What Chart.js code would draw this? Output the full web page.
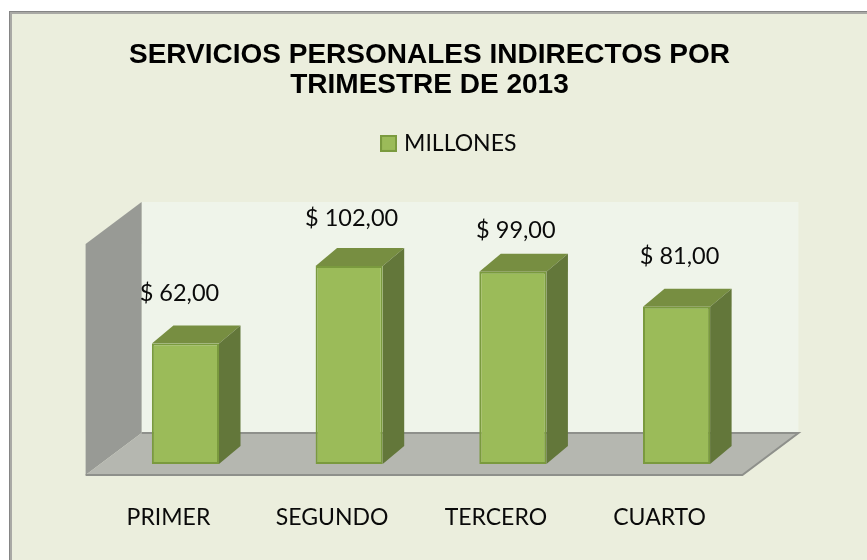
<!DOCTYPE html>
<html>
<head>
<meta charset="utf-8">
<title>Servicios personales indirectos</title>
<script src="https://cdn.jsdelivr.net/npm/chart.js@4"></script>
<style>
  html, body { margin: 0; padding: 0; background: #fff; }
  #box { position: relative; width: 867px; height: 560px; overflow: hidden; }
</style>
</head>
<body>
<div id="box"><canvas id="chart" width="867" height="560"></canvas></div>
<script>
"use strict";

const categories = ["PRIMER", "SEGUNDO", "TERCERO", "CUARTO"];
const seriesName = "MILLONES";
const millones = [62, 102, 99, 81];
const valueLabels = ["$ 62,00", "$ 102,00", "$ 99,00", "$ 81,00"];
const titleLines = ["SERVICIOS PERSONALES INDIRECTOS POR", "TRIMESTRE DE 2013"];

/* label nudges, px from bar top centre */
const labelDx = [-6, 2.5, 3, 3];
const labelDy = [-50, -47, -41, -50];

const C = {
  page: "#EBEEDD", frameOut: "#858585", frameIn: "#A9A9A5",
  wall: "#EFF4EA", side: "#989A95", floor: "#B5B7B0", floorEdge: "#8E908B",
  front: "#9BBB59", edge: "#7A9A3E", top: "#778E41", right: "#63773A",
  text: "#0A0A0A",
};

const poly = (ctx, pts, fill) => {
  ctx.beginPath();
  pts.forEach((p, i) => i ? ctx.lineTo(p[0], p[1]) : ctx.moveTo(p[0], p[1]));
  ctx.closePath();
  ctx.fillStyle = fill;
  ctx.fill();
};

/* legend swatch: chart.js puts too wide a gap after a plain box */
const swatch = document.createElement("canvas");
swatch.width = 17;
swatch.height = 17;
{
  const s = swatch.getContext("2d");
  s.fillStyle = C.edge;
  s.fillRect(0, 0, 17, 17);
  s.fillStyle = C.front;
  s.fillRect(2, 2, 13, 13);
}

/* ─── FRAME + 3D ROOM ─── */
const roomPlugin = {
  id: "room",
  afterLayout(chart) {
    // legend and title are not centred on the plot in the original
    chart.legend.left += 19.5;
    chart.legend.right += 19.5;
    chart.titleBlock.left -= 1.5;
    chart.titleBlock.right -= 1.5;
  },
  beforeDraw(chart) {
    const { ctx, width, height } = chart;
    ctx.save();
    ctx.fillStyle = C.frameOut;
    ctx.fillRect(9, 11, width - 9, height - 11);
    ctx.fillStyle = C.frameIn;
    ctx.fillRect(10, 12, width - 10, height - 12);
    ctx.fillStyle = C.page;
    ctx.fillRect(12, 14, width - 12, height - 14);
    ctx.restore();
  },
  beforeDatasetsDraw(chart) {
    const { ctx, chartArea: a, scales } = chart;
    const base = scales.y.getPixelForValue(0);
    const fx = a.left - 18, fy = base + 11;     // front floor corner
    const bx = fx + 56, by = fy - 42;           // back floor corner
    const rx = a.right + 40;                    // back right
    const topY = base - 262;
    ctx.save();
    ctx.fillStyle = C.wall;
    ctx.fillRect(bx, topY, rx - bx, by - topY);
    poly(ctx, [[fx, topY + 42], [bx, topY], [bx, by], [fx, fy]], C.side);
    poly(ctx, [[fx, fy], [bx, by], [rx, by], [rx - 56, fy]], C.floor);
    ctx.strokeStyle = C.floorEdge;
    ctx.lineWidth = 2;
    ctx.beginPath();
    ctx.moveTo(fx, fy);
    ctx.lineTo(rx - 56, fy);
    ctx.lineTo(rx, by);
    ctx.lineTo(bx, by);
    ctx.stroke();
    // bar depth faces
    const dx = 21.5, dy = 18;
    chart.getDatasetMeta(0).data.forEach(bar => {
      const l = bar.x - bar.width / 2, r = bar.x + bar.width / 2;
      poly(ctx, [[l, bar.y], [l + dx, bar.y - dy], [r + dx, bar.y - dy], [r, bar.y]], C.top);
      poly(ctx, [[r, bar.y], [r + dx, bar.y - dy], [r + dx, bar.base - dy], [r, bar.base]], C.right);
    });
    ctx.restore();
  },
  afterDatasetsDraw(chart) {
    const { ctx } = chart;
    ctx.save();
    ctx.font = "23.5px Lato";
    ctx.fillStyle = C.text;
    ctx.textAlign = "center";
    ctx.textBaseline = "middle";
    chart.getDatasetMeta(0).data.forEach((bar, i) => {
      ctx.fillText(valueLabels[i], bar.x + labelDx[i], bar.y + labelDy[i]);
    });
    ctx.restore();
  },
};

new Chart(document.getElementById("chart"), {
  type: "bar",
  data: {
    labels: categories,
    datasets: [{
      label: seriesName,
      data: millones,
      backgroundColor: C.front,
      borderColor: C.edge,
      borderWidth: 2,
      borderSkipped: false,
      barPercentage: 0.41,
      categoryPercentage: 1,
    }],
  },
  options: {
    responsive: false,
    animation: false,
    layout: { padding: { left: 103.6, right: 108.6, top: 40, bottom: 0 } },
    plugins: {
      tooltip: { enabled: false },
      title: {
        display: true,
        text: titleLines,
        color: "#000",
        font: { family: "'Liberation Sans'", size: 28, weight: "bold", lineHeight: 1.07 },
        padding: { top: 0, bottom: 26 },
      },
      legend: {
        display: true,
        position: "top",
        labels: {
          color: C.text,
          font: { family: "Lato", size: 23 },
          usePointStyle: true,
          pointStyle: swatch,
          pointStyleWidth: 8,
          boxHeight: 17,
          padding: 6,
        },
      },
    },
    scales: {
      x: {
        afterFit(scale) { scale.height = 96; },
        grid: { display: false },
        border: { display: false },
        ticks: { color: C.text, font: { family: "Lato", size: 23 }, padding: 32, labelOffset: -17, maxRotation: 0 },
      },
      y: { display: false, min: 0, max: 154 },
    },
  },
  plugins: [roomPlugin],
});
</script>
</body>
</html>
